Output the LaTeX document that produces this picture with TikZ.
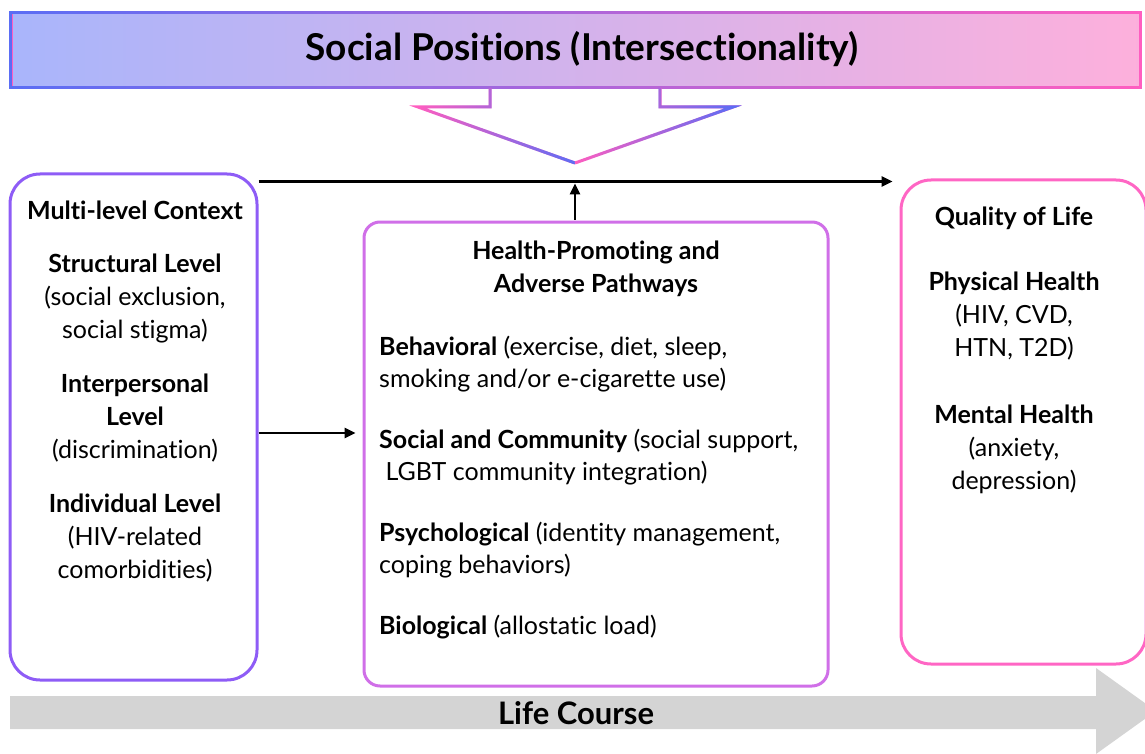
\documentclass[tikz,border=0pt]{standalone}
\usepackage{fontspec}
\usepackage{graphicx}
\setmainfont{Lato}[Ligatures=NoCommon]
\usetikzlibrary{arrows.meta,positioning,fadings}

\definecolor{blueend}{HTML}{5B6EF5}
\definecolor{pinkend}{HTML}{FF5EC0}
\definecolor{titleL}{HTML}{A9B5FB}
\definecolor{titleR}{HTML}{FDB0DC}
\definecolor{ctxcol}{HTML}{8E5CF6}
\definecolor{pathcol}{HTML}{D06FE8}
\definecolor{qolcol}{HTML}{FF66C4}
\definecolor{lcgray}{HTML}{D4D4D4}

\tikzset{
  box/.style={draw, line width=3pt, inner sep=0pt},
  hd/.style={font=\bfseries\fontsize{25}{33}\selectfont, align=center},
  txt/.style={font=\fontsize{25}{33}\selectfont, align=center, inner sep=0pt},
  conn/.style={line width=2.5pt, -{Triangle[length=11pt,width=10pt]}},
}

\begin{document}
\begin{tikzpicture}[x=1pt,y=-1pt]
\useasboundingbox (0,0) rectangle (1145,754);
\clip (0,0) rectangle (1145,754);

% banner
\shade[left color=titleL, right color=titleR] (11,13) rectangle (1140,88);
\draw[pinkend, line width=3pt] (11,13) rectangle (1140,88);
\draw[blueend, line width=3pt, path fading=east] (11,13) rectangle (1140,88);
\node[font=\bfseries\fontsize{37}{42}\selectfont] (title) at (582,49) {Social Positions (Intersectionality)};

% hollow arrow under the banner, one half at a time
\coordinate (tip) at (575,163);
\foreach \p in {{(490,88)--(490,107)--(418,107)--(575,163)},
                {(575,163)--(733,107)--(660,107)--(660,88)}}{
  \draw[pinkend, line width=3pt, line join=miter] \p;
  \draw[blueend, line width=3pt, line join=miter, path fading=west] \p;
}

% the three boxes
\node[box, draw=ctxcol, rounded corners=30pt, minimum width=247pt, minimum height=506pt] (ctx) at (133.5,427) {};
\node[box, draw=pathcol, rounded corners=16pt, minimum width=464pt, minimum height=464pt] (paths) at (596,454) {};
\node[box, draw=qolcol, rounded corners=30pt, minimum width=245pt, minimum height=484pt] (qol) at (1023.5,422) {};

% texts
\node[txt, anchor=north] (ctxtxt) at (135,201) {%
  \textbf{Multi-level Context}\\[20pt]
  \textbf{Structural Level}\\ (social exclusion,\\ social stigma)\\[21pt]
  \textbf{Interpersonal}\\ \textbf{Level}\\ (discrimination)\\[21pt]
  \textbf{Individual Level}\\ (HIV-related\\ comorbidities)};
\node[hd, anchor=north, inner sep=0pt] (pathhd) at (596,241) {Health-Promoting and\\ Adverse Pathways};
\node[txt, align=left, anchor=north west, font=\fontsize{25}{31.5}\selectfont] (pathtxt) at (379,336) {%
  \textbf{Behavioral} (exercise, diet, sleep,\\ smoking and/or e-cigarette use)\\[30pt]
  \textbf{Social and Community} (social support,\\ \ LGBT community integration)\\[30pt]
  \textbf{Psychological} (identity management,\\ coping behaviors)\\[30pt]
  \textbf{Biological} (allostatic load)};
\node[txt, anchor=north] (qoltxt) at (1014,207) {%
  \textbf{Quality of Life}\\[32pt]
  \textbf{Physical Health}\\ (HIV, CVD,\\ HTN, T2D)\\[34pt]
  \textbf{Mental Health}\\ (anxiety,\\ depression)};

% connectors
\coordinate (topl) at ([yshift=-9pt]ctx.north east);
\coordinate (midl) at ([yshift=-6pt]ctx.east);
\draw[conn, shorten >=7pt] (topl) -- (topl -| qol.west);
\draw[conn, shorten <=1pt] (tip |- paths.north) -- ([yshift=-2pt]tip |- topl);
\draw[conn, shorten >=7pt] (midl) -- (midl -| paths.west);

% life course band
\fill[lcgray] (10,696) -- (1096,696) -- (1096,668) -- (1156,711) -- (1096,754)
  -- (1096,729) -- (10,729) -- cycle;
\node[font=\bfseries\fontsize{31}{34}\selectfont] (life) at (576,713) {Life Course};
\end{tikzpicture}
\end{document}
